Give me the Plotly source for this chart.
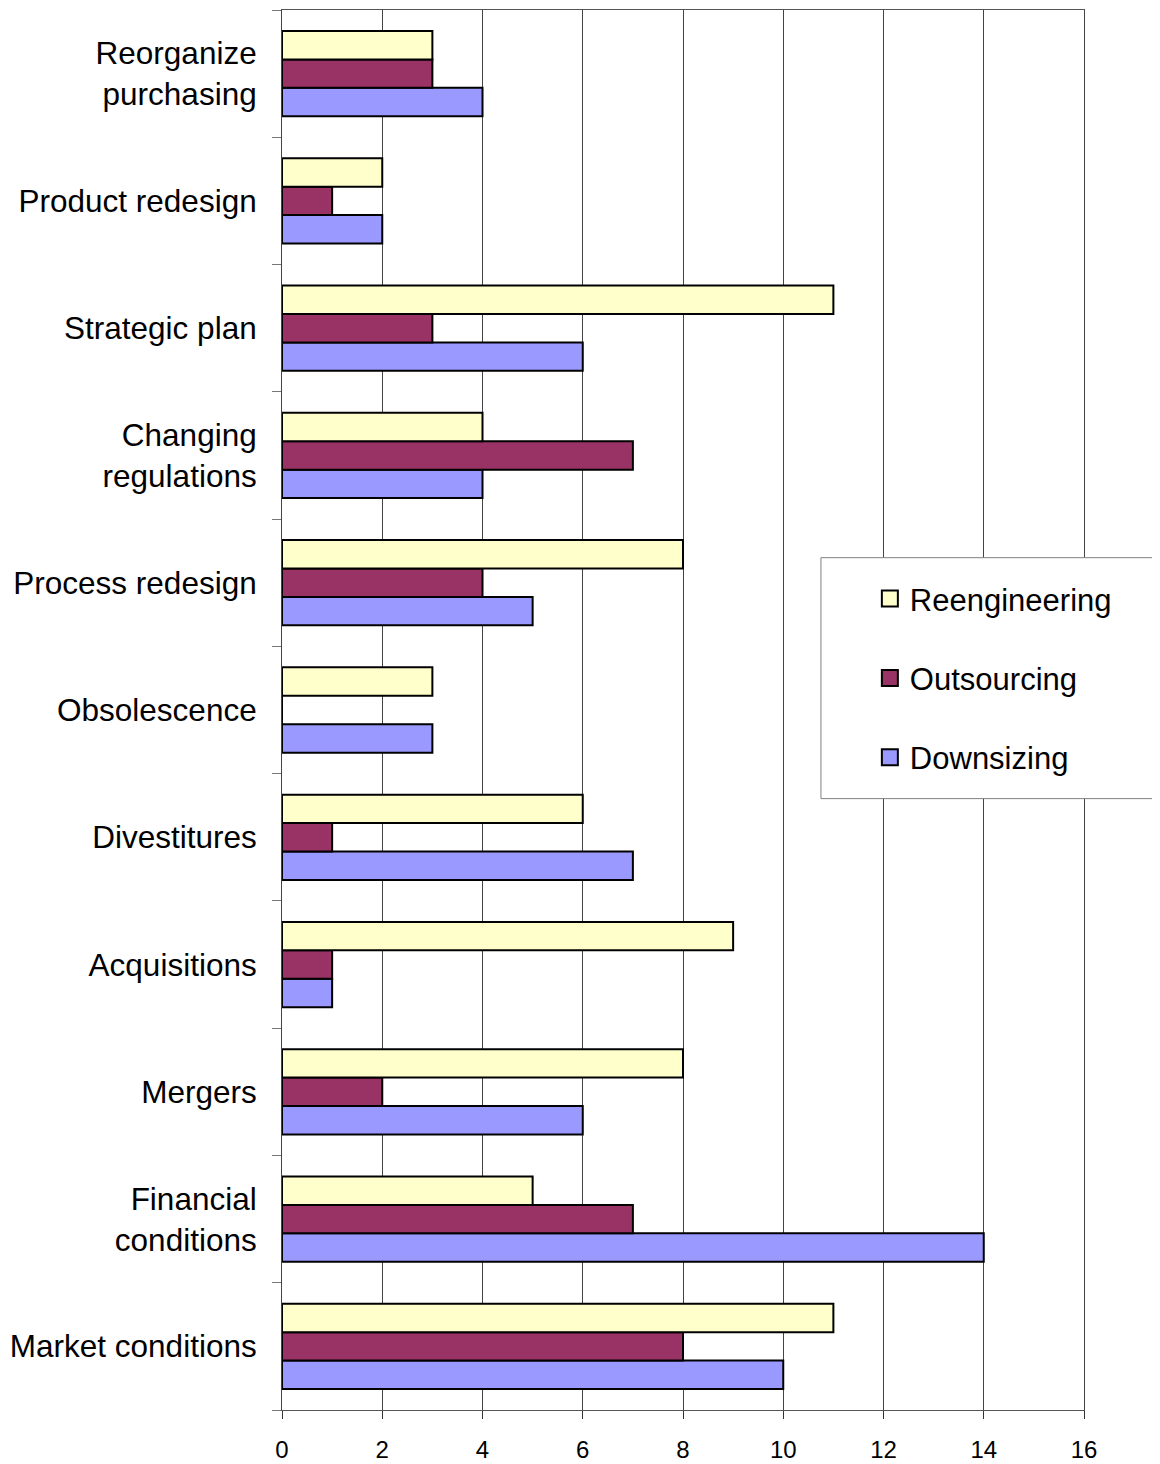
import plotly.graph_objects as go

# categories listed bottom to top
categories = ["Market conditions", "Financial<br>conditions", "Mergers", "Acquisitions",
              "Divestitures", "Obsolescence", "Process redesign", "Changing<br>regulations",
              "Strategic plan", "Product redesign", "Reorganize<br>purchasing"]

reengineering = [11, 5, 8, 9, 6, 3, 8, 4, 11, 2, 3]
outsourcing = [8, 7, 2, 1, 1, 0, 4, 7, 3, 1, 3]
downsizing = [10, 14, 6, 1, 7, 3, 5, 4, 6, 2, 4]

x_ticks = [0, 2, 4, 6, 8, 10, 12, 14, 16]

FONT = "Arial, Liberation Sans, sans-serif"

fig = go.Figure()

# plotly stacks groups bottom-up, so the bottom series goes first
series = [
    ("Downsizing", downsizing, "#9999FF", 3),
    ("Outsourcing", outsourcing, "#993366", 2),
    ("Reengineering", reengineering, "#FFFFCC", 1),
]
for name, vals, color, rank in series:
    fig.add_trace(go.Bar(
        y=categories, x=vals, name=name, orientation="h",
        legendgroup=name, showlegend=False,
        marker=dict(color=color, line=dict(color="black", width=2)),
    ))
    # bigger square legend key than the bar default
    fig.add_trace(go.Scatter(
        x=[None], y=[None], mode="markers", name=name,
        legendgroup=name, legendrank=rank, hoverinfo="skip",
        marker=dict(symbol="square", size=16, color=color,
                    line=dict(color="black", width=2)),
    ))

# legend frame (runs off the right edge like the original)
fig.add_shape(type="rect", xref="paper", yref="paper",
              x0=0.672, x1=1.12, y0=0.4367, y1=0.6088,
              line=dict(color="#808080", width=1), fillcolor="white", layer="above")

# page body has an 8px margin, so the figure is 8px smaller each way
fig.update_layout(
    width=1152, height=1456,
    margin=dict(l=274, r=76, t=1, b=50),
    paper_bgcolor="white", plot_bgcolor="white",
    font=dict(family=FONT, color="black"),
    barmode="group", bargap=0.33, bargroupgap=0,
    showlegend=True,
    legend=dict(
        x=0.733, y=0.5986, xanchor="left", yanchor="top",
        traceorder="grouped", tracegroupgap=36,
        font=dict(size=31, family=FONT),
        bgcolor="rgba(0,0,0,0)", borderwidth=0,
    ),
    xaxis=dict(
        range=[0, 16], tickvals=x_ticks, ticks="outside", ticklen=8,
        tickcolor="#333", showline=True, linecolor="#555", linewidth=1, mirror=True,
        showgrid=True, gridcolor="#444", gridwidth=1, zeroline=False,
        tickfont=dict(size=24, family=FONT), ticklabelstandoff=10,
    ),
    yaxis=dict(
        type="category", categoryorder="array", categoryarray=categories,
        tickson="boundaries", ticks="outside", ticklen=9, tickcolor="#777",
        showline=True, linecolor="#444", linewidth=1, mirror=True,
        showgrid=False, tickfont=dict(size=31.5, family=FONT),
        ticklabelstandoff=18,
    ),
)

fig.write_html("out.html")
